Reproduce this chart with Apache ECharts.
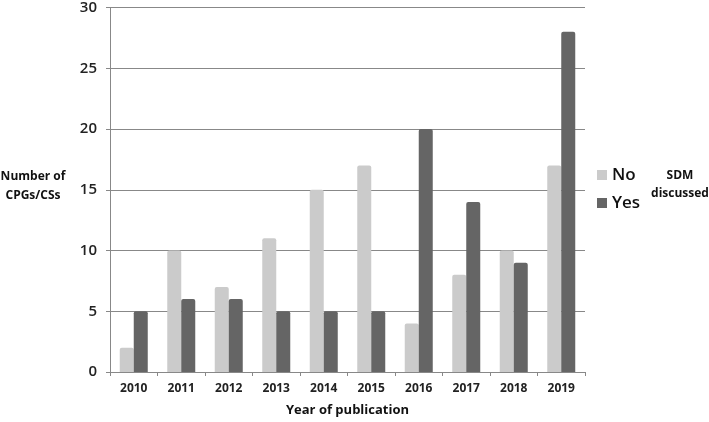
<!DOCTYPE html>
<html><head><meta charset="utf-8">
<script src="https://cdn.jsdelivr.net/npm/echarts@6/dist/echarts.min.js"></script>
<style>html,body{margin:0;padding:0;background:#fff}#c{width:709px;height:422px}</style>
</head><body><div id="c"></div>
<script>
const categories = ['2010','2011','2012','2013','2014','2015','2016','2017','2018','2019'];
const noValues  = [2,10,7,11,15,17,4,8,10,17];
const yesValues = [5,6,6,5,5,5,20,14,9,28];
const yTicks = [0,5,10,15,20,25,30];

const chart = echarts.init(document.getElementById('c'));
const font = 'Open Sans';
chart.setOption({
  animation: false,
  textStyle: {fontFamily: font},
  grid: {left: 110, right: 124, top: 5, bottom: 48},
  legend: {
    orient: 'vertical', left: 597, top: 166, icon: 'rect', padding: 0,
    itemWidth: 10, itemHeight: 10, itemGap: 10,
    textStyle: {fontSize: 17, lineHeight: 18, fontWeight: 600, color: '#111', fontFamily: font},
    data: ['No','Yes']
  },
  xAxis: {
    type: 'category', data: categories,
    axisLine: {lineStyle: {color: '#888'}},
    axisTick: {show: true, length: 4, lineStyle: {color: '#888'}},
    axisLabel: {fontSize: 12, fontWeight: 'bold', color: '#222', margin: 11},
    name: 'Year of publication', nameLocation: 'middle', nameGap: 32,
    nameTextStyle: {fontSize: 13, fontWeight: 'bold', color: '#111'}
  },
  yAxis: {
    type: 'value', min: yTicks[0], max: yTicks[yTicks.length-1], interval: 5,
    axisLine: {show: true, lineStyle: {color: '#888'}},
    axisTick: {show: true, length: 4, lineStyle: {color: '#888'}},
    splitLine: {lineStyle: {color: '#888'}},
    axisLabel: {fontSize: 15, fontWeight: 600, color: '#222', margin: 13}
  },
  graphic: [
    {type: 'text', x: 33, y: 167, style: {text: 'Number of\nCPGs/CSs', font: 'bold 12px "Open Sans"', fill: '#111', lineHeight: 19, align: 'center'}},
    {type: 'text', x: 680, y: 167, style: {text: 'SDM\ndiscussed', font: 'bold 12px "Open Sans"', fill: '#111', lineHeight: 18, align: 'center'}}
  ],
  series: [
    {name: 'No', type: 'bar', data: noValues, barWidth: 14, barGap: '0%',
     itemStyle: {color: '#cbcbcb', borderRadius: [2,2,0,0]}},
    {name: 'Yes', type: 'bar', data: yesValues, barWidth: 14, barGap: '0%',
     itemStyle: {color: '#656565', borderRadius: [2,2,0,0]}}
  ]
});
</script></body></html>
